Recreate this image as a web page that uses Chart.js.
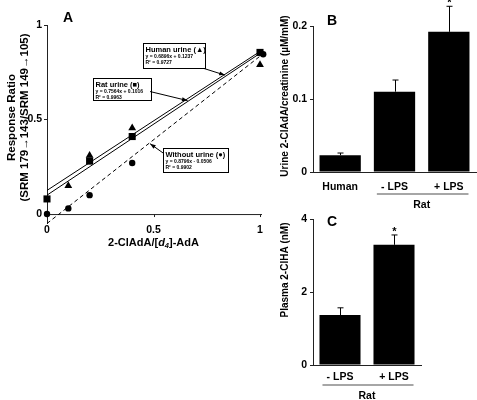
<!DOCTYPE html>
<html lang="en">
<head>
<meta charset="UTF-8">
<title>2-ClAdA calibration, urine and plasma levels</title>
<style>
  body { margin: 0; background: #fff; }
  #wrap { position: relative; width: 477px; height: 400px; overflow: hidden; background: #fff; }
  #wrap canvas { position: absolute; }
  #chartA { left: 0; top: 0; width: 275px; height: 260px; }
  #chartB { left: 262px; top: 0; width: 215px; height: 215px; }
  #chartC { left: 262px; top: 210px; width: 170px; height: 190px; }
</style>
</head>
<body>
<div id="wrap">
  <canvas id="chartA" width="275" height="260"></canvas>
  <canvas id="chartB" width="215" height="215"></canvas>
  <canvas id="chartC" width="170" height="190"></canvas>
</div>

<script src="https://cdn.jsdelivr.net/npm/chart.js"></script>
<script>
// ---- panel A: calibration (x = 2-ClAdA/[d4]-AdA, y = response ratio)
const humanX = [0.1, 0.2, 0.4, 1];
const humanY = [0.15, 0.31, 0.455, 0.79];
const ratX = [0, 0.2, 0.4, 1];
const ratY = [0.08, 0.28, 0.41, 0.855];
const withoutX = [0, 0.1, 0.2, 0.4, 1.015];
const withoutY = [0, 0.03, 0.1, 0.27, 0.845];
const fitX = [0, 1];
const humanFitY = [0.125, 0.86];
const ratFitY = [0.1, 0.85];
const withoutFitY = [-0.05, 0.835];
const ticksA = [0, 0.5, 1];

// ---- panel B: urine 2-ClAdA/creatinine
const bCategories = ['Human', '- LPS', '+ LPS'];
const bMeans = [0.023, 0.11, 0.192];
const bErrors = [0.003, 0.016, 0.035];
const bStars = [false, false, true];
const ticksB = [0, 0.1, 0.2];

// ---- panel C: plasma 2-ClHA
const cCategories = ['- LPS', '+ LPS'];
const cMeans = [1.37, 3.3];
const cErrors = [0.2, 0.27];
const cStars = [false, true];
const ticksC = [0, 2, 4];

const FAMILY = "'Liberation Sans', Arial, Helvetica, sans-serif";
const font = (size, weight = 'bold', style = 'normal') => `${style} ${weight} ${size}px ${FAMILY}`;
const AXIS = '#222';

Chart.defaults.font.family = FAMILY;
Chart.defaults.color = '#000';

function xy(xs, ys) {
  return xs.map((v, i) => ({ x: v, y: ys[i] }));
}

function vText(ctx, text, x, y, f) {
  ctx.save();
  ctx.translate(x, y);
  ctx.rotate(-Math.PI / 2);
  ctx.font = f;
  ctx.textAlign = 'center';
  ctx.textBaseline = 'middle';
  ctx.fillText(text, 0, 0);
  ctx.restore();
}

function arrow(ctx, x1, y1, x2, y2) {
  const a = Math.atan2(y2 - y1, x2 - x1);
  ctx.beginPath();
  ctx.moveTo(x1, y1);
  ctx.lineTo(x2, y2);
  ctx.stroke();
  ctx.beginPath();
  ctx.moveTo(x2, y2);
  ctx.lineTo(x2 - 6 * Math.cos(a - 0.35), y2 - 6 * Math.sin(a - 0.35));
  ctx.lineTo(x2 - 6 * Math.cos(a + 0.35), y2 - 6 * Math.sin(a + 0.35));
  ctx.closePath();
  ctx.fill();
}

// boxed regression notes, placed in data units of panel A
const notes = [
  { lines: ['Human urine (\u25B2)', 'y = 0.6896x + 0.1237', 'R\u00B2 = 0.9727'],
    at: [0.451, 0.905], w: 62, h: 25, from: [0.737, 0.77], to: [0.835, 0.735] },
  { lines: ['Rat urine (\u25A0)', 'y = 0.7564x + 0.1016', 'R\u00B2 = 0.9963'],
    at: [0.216, 0.72], w: 58, h: 22, from: [0.484, 0.648], to: [0.66, 0.6] },
  { lines: ['Without urine (\u25CF)', 'y = 0.8796x - 0.0506', 'R\u00B2 = 0.9902'],
    at: [0.545, 0.349], w: 65, h: 24, from: [0.545, 0.323], to: [0.484, 0.372] }
];

const panelA = {
  id: 'panelA',
  beforeDatasetsDraw(chart) {
    const { ctx, chartArea, scales: { x, y } } = chart;
    const y0 = y.getPixelForValue(0);
    ctx.save();
    ctx.strokeStyle = AXIS;
    ctx.lineWidth = 1;
    ctx.beginPath();
    ctx.moveTo(chartArea.left, y0 + 0.5);
    ctx.lineTo(chartArea.right + 2, y0 + 0.5);
    ticksA.slice(1).forEach(v => {
      const px = Math.round(x.getPixelForValue(v)) + 0.5;
      ctx.moveTo(px, y0);
      ctx.lineTo(px, y0 + 3);
    });
    ctx.stroke();
    ctx.restore();
  },
  afterDraw(chart) {
    const { ctx, chartArea, scales: { x, y } } = chart;
    ctx.save();
    ctx.fillStyle = '#000';

    // panel letter
    ctx.font = font(14);
    ctx.textAlign = 'left';
    ctx.textBaseline = 'middle';
    ctx.fillText('A', 63, 18);

    // y title, two lines
    const midY = (y.getPixelForValue(1) + y.getPixelForValue(0)) / 2;
    vText(ctx, 'Response Ratio', 12, midY - 2, font(11.5));
    vText(ctx, '(SRM 179\u2192143/SRM 149\u2192105)', 25, midY - 2, font(11.5));

    // x title with italic subscript
    const parts = [
      ['2-ClAdA/[', font(11), 0],
      ['d', font(11, 'bold', 'italic'), 0],
      ['4', font(7.5, 'bold', 'italic'), 3],
      [']-AdA', font(11), 0]
    ];
    let total = 0;
    parts.forEach(p => { ctx.font = p[1]; total += ctx.measureText(p[0]).width; });
    let cx = (chartArea.left + x.getPixelForValue(1)) / 2 - total / 2;
    ctx.textBaseline = 'middle';
    parts.forEach(p => {
      ctx.font = p[1];
      ctx.fillText(p[0], cx, 243 + p[2]);
      cx += ctx.measureText(p[0]).width;
    });

    // regression notes
    notes.forEach(n => {
      const bx = Math.round(x.getPixelForValue(n.at[0])) + 0.5;
      const by = Math.round(y.getPixelForValue(n.at[1])) + 0.5;
      ctx.strokeStyle = '#000';
      ctx.lineWidth = 1;
      ctx.fillStyle = '#fff';
      ctx.fillRect(bx, by, n.w, n.h);
      ctx.strokeRect(bx, by, n.w, n.h);
      ctx.fillStyle = '#000';
      ctx.textBaseline = 'middle';
      ctx.font = font(7.5);
      ctx.fillText(n.lines[0], bx + 2, by + 6);
      ctx.font = font(5);
      ctx.fillText(n.lines[1], bx + 2, by + 13.5);
      ctx.fillText(n.lines[2], bx + 2, by + 19.5);
      arrow(ctx, x.getPixelForValue(n.from[0]), y.getPixelForValue(n.from[1]),
        x.getPixelForValue(n.to[0]), y.getPixelForValue(n.to[1]));
    });
    ctx.restore();
  }
};

const tickFont = { family: FAMILY, size: 10.5, weight: 'bold' };

new Chart(document.getElementById('chartA'), {
  type: 'scatter',
  data: {
    datasets: [
      { label: 'Human urine', data: xy(humanX, humanY), pointStyle: 'triangle', pointRadius: 4.5,
        backgroundColor: '#000', borderColor: '#000', borderWidth: 0, order: 0 },
      { label: 'Rat urine', data: xy(ratX, ratY), pointStyle: 'rect', pointRadius: 5,
        backgroundColor: '#000', borderColor: '#000', borderWidth: 0, order: 0 },
      { label: 'Without urine', data: xy(withoutX, withoutY), pointStyle: 'circle', pointRadius: 3.2,
        backgroundColor: '#000', borderColor: '#000', borderWidth: 0, order: 0 },
      { label: 'Human fit', data: xy(fitX, humanFitY), showLine: true, pointRadius: 0,
        borderColor: '#000', borderWidth: 1, order: 1 },
      { label: 'Rat fit', data: xy(fitX, ratFitY), showLine: true, pointRadius: 0,
        borderColor: '#000', borderWidth: 1, order: 1 },
      { label: 'Without fit', data: xy(fitX, withoutFitY), showLine: true, pointRadius: 0,
        borderColor: '#000', borderWidth: 1, borderDash: [4, 3], order: 1 }
    ]
  },
  options: {
    responsive: false,
    animation: false,
    clip: false,
    layout: { padding: { top: 25, right: 15, left: 0, bottom: 0 } },
    plugins: { legend: { display: false }, tooltip: { enabled: false } },
    scales: {
      x: {
        type: 'linear', min: 0, max: 1,
        afterBuildTicks: s => { s.ticks = ticksA.map(v => ({ value: v })); },
        afterFit: s => { s.height = 36.5; },
        ticks: { font: tickFont, color: '#000', padding: 0, maxRotation: 0,
          callback: v => String(v) },
        grid: { display: false, drawTicks: false },
        border: { display: false }
      },
      y: {
        min: -0.05, max: 1,
        afterBuildTicks: s => { s.ticks = ticksA.map(v => ({ value: v })); },
        afterFit: s => { s.width = 47; },
        ticks: { font: tickFont, color: '#000', padding: 2, callback: v => String(v) },
        grid: { drawOnChartArea: false, tickLength: 3, color: AXIS },
        border: { color: AXIS, width: 1 }
      }
    }
  },
  plugins: [panelA]
});

// ---- bar panels: error bars, stars, "Rat" group, titles
const barExtras = {
  id: 'barExtras',
  afterDatasetsDraw(chart, args, o) {
    const { ctx, chartArea, scales: { y } } = chart;
    const meta = chart.getDatasetMeta(0);
    const means = chart.data.datasets[0].data;
    ctx.save();
    ctx.strokeStyle = '#000';
    ctx.fillStyle = '#000';
    ctx.lineWidth = 1;
    meta.data.forEach((bar, i) => {
      const top = y.getPixelForValue(means[i] + o.errors[i]);
      const bx = Math.round(bar.x) + 0.5;
      ctx.beginPath();
      ctx.moveTo(bx, bar.y);
      ctx.lineTo(bx, top);
      ctx.moveTo(bx - 3, top);
      ctx.lineTo(bx + 3, top);
      ctx.stroke();
      if (o.stars[i]) {
        ctx.font = font(11);
        ctx.textAlign = 'center';
        ctx.textBaseline = 'middle';
        ctx.fillText('*', bx, top - 3);
      }
    });

    // group bracket "Rat"
    const first = meta.data[o.groupFrom];
    const last = meta.data[o.groupTo];
    const gy = chartArea.bottom + o.bracketY;
    ctx.strokeStyle = '#888';
    ctx.lineWidth = 1.5;
    ctx.beginPath();
    ctx.moveTo(first.x - first.width / 2 + 3, gy);
    ctx.lineTo(last.x + last.width / 2 - 1, gy);
    ctx.stroke();
    ctx.font = font(10.5);
    ctx.textAlign = 'center';
    ctx.textBaseline = 'middle';
    ctx.fillText('Rat', (first.x + last.x) / 2, gy + o.ratGap);

    // panel letter and y title
    ctx.font = font(14);
    ctx.textAlign = 'left';
    ctx.fillText(o.letter, o.letterAt[0], o.letterAt[1]);
    vText(ctx, o.title, o.titleAt[0], o.titleAt[1], font(o.titleSize));
    ctx.restore();
  }
};

function barChart(id, labels, values, ticks, pad, xHeight, labelPad, extras) {
  return new Chart(document.getElementById(id), {
    type: 'bar',
    data: {
      labels: labels,
      datasets: [{ data: values, backgroundColor: '#000', borderWidth: 0,
        barPercentage: 0.76, categoryPercentage: 1 }]
    },
    options: {
      responsive: false,
      animation: false,
      layout: { padding: pad },
      plugins: { legend: { display: false }, tooltip: { enabled: false }, barExtras: extras },
      scales: {
        x: {
          afterFit: s => { s.height = xHeight; },
          ticks: { font: tickFont, color: '#000', padding: labelPad, maxRotation: 0 },
          grid: { display: false, drawTicks: false },
          border: { color: AXIS, width: 1 }
        },
        y: {
          min: ticks[0], max: ticks[ticks.length - 1],
          afterBuildTicks: s => { s.ticks = ticks.map(v => ({ value: v })); },
          afterFit: s => { s.width = 51; },
          ticks: { font: tickFont, color: '#000', padding: 3,
            callback: v => v === 0 ? '0' : (Number.isInteger(v) ? String(v) : v.toFixed(1)) },
          grid: { drawOnChartArea: false, tickLength: 3, color: AXIS },
          border: { color: AXIS, width: 1 }
        }
      }
    },
    plugins: [barExtras]
  });
}

barChart('chartB', bCategories, bMeans, ticksB, { top: 26, right: 1, left: 0, bottom: 0 }, 43, 9, {
  errors: bErrors, stars: bStars, groupFrom: 1, groupTo: 2, bracketY: 22, ratGap: 11,
  letter: 'B', letterAt: [65, 21], title: 'Urine 2-ClAdA/creatinine (\u00B5M/mM)',
  titleAt: [23, 96], titleSize: 10
});

barChart('chartC', cCategories, cMeans, ticksC, { top: 8, right: 11, left: 0, bottom: 0 }, 35, 6, {
  errors: cErrors, stars: cStars, groupFrom: 0, groupTo: 1, bracketY: 20, ratGap: 11,
  letter: 'C', letterAt: [65, 12], title: 'Plasma 2-ClHA (nM)',
  titleAt: [23, 60], titleSize: 10
});
</script>
</body>
</html>
